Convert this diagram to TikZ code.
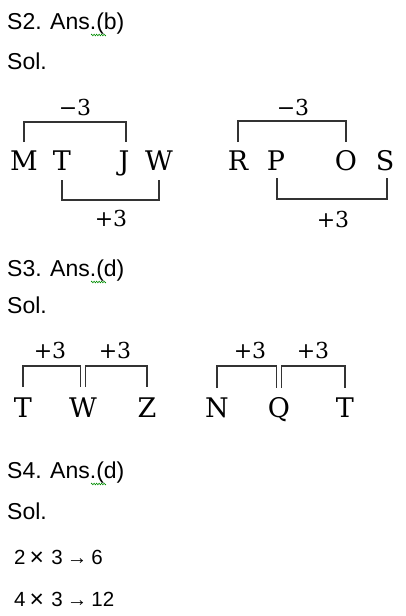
\documentclass[tikz,border=0pt]{standalone}
\usepackage{fontspec}
\setmainfont{DejaVu Serif}
\newfontfamily\arial{Liberation Sans}
\usetikzlibrary{decorations.pathmorphing}
\begin{document}
\begin{tikzpicture}[x=1pt,y=-1pt,
  head/.style={anchor=base west,inner sep=0pt,font=\arial\fontsize{23}{23}\selectfont},
  eqn/.style={anchor=base west,inner sep=0pt,font=\arial\fontsize{20.5}{20.5}\selectfont},
  letter/.style={anchor=base,inner sep=0pt,font=\fontsize{27}{27}\selectfont},
  num/.style={inner sep=0pt,font=\fontsize{22}{22}\selectfont},
  brk/.style={line width=1.8pt,draw=black!80},
  squig/.style={draw=green!55!black,line width=0.6pt,decorate,decoration={zigzag,amplitude=0.8pt,segment length=2.5pt}}]
\useasboundingbox (0,0) rectangle (406,616);
% S2
\node[head] (h2) at (7,29) {S2. Ans.(b)};
\node[head] (s2) at (7,69) {Sol.};
\draw[squig] (91,35) -- (106,35);
\node[letter] (M) at (24,170) {M};
\node[letter] (T1) at (62,170) {T};
\node[letter] (J) at (124,170) {J};
\node[letter] (W1) at (159,170) {W};
\node[num] (m1) at (75,107) {−3};
\node[num] (p1) at (111,218) {+3};
\draw[brk] (M.center |- 0,142) -- (M.center |- 0,122) -- ([xshift=2pt]J.center |- 0,122) -- ([xshift=2pt]J.center |- 0,142);
\draw[brk] (T1.center |- 0,180) -- (T1.center |- 0,200) -- (W1.center |- 0,200) -- (W1.center |- 0,180);
\node[letter] (R) at (238,170) {R};
\node[letter] (P) at (276,170) {P};
\node[letter] (O) at (346,170) {O};
\node[letter] (S) at (385,170) {S};
\node[num] (m2) at (293,107) {−3};
\node[num] (p2) at (333,219) {+3};
\draw[brk] (R.center |- 0,142) -- (R.center |- 0,121) -- (O.center |- 0,121) -- (O.center |- 0,142);
\draw[brk] ([xshift=1pt]P.center |- 0,178) -- ([xshift=1pt]P.center |- 0,199) -- ([xshift=2pt]S.center |- 0,199) -- ([xshift=2pt]S.center |- 0,178);
% S3
\node[head] (h3) at (7,276) {S3. Ans.(d)};
\node[head] (s3) at (7,313) {Sol.};
\draw[squig] (91,282) -- (106,282);
\node[letter] (T2) at (23,417) {T};
\node[letter] (W2) at (83,417) {W};
\node[letter] (Z) at (147,417) {Z};
\node[num] (a1) at (50,350) {+3};
\node[num] (a2) at (115,350) {+3};
\draw[brk] (T2.center |- 0,387) -- (T2.center |- 0,366) -- ([xshift=-2.5pt]W2.center |- 0,366) -- ([xshift=-2.5pt]W2.center |- 0,387);
\draw[brk] ([xshift=2.5pt]W2.center |- 0,387) -- ([xshift=2.5pt]W2.center |- 0,366) -- (Z.center |- 0,366) -- (Z.center |- 0,387);
\node[letter] (N) at (217,417) {N};
\node[letter] (Q) at (279,417) {Q};
\node[letter] (T3) at (345,417) {T};
\node[num] (b1) at (250,350) {+3};
\node[num] (b2) at (313,350) {+3};
\draw[brk] (N.center |- 0,388) -- (N.center |- 0,366) -- ([xshift=-2.5pt]Q.center |- 0,366) -- ([xshift=-2.5pt]Q.center |- 0,388);
\draw[brk] ([xshift=2.5pt]Q.center |- 0,388) -- ([xshift=2.5pt]Q.center |- 0,366) -- (T3.center |- 0,366) -- (T3.center |- 0,388);
% S4
\node[head] (h4) at (7,478) {S4. Ans.(d)};
\node[head] (s4) at (7,519) {Sol.};
\draw[squig] (91,484) -- (106,484);
\node[eqn] (e1) at (14,564) {2\hspace{4pt}\raisebox{-1.4pt}{\scalebox{1.2}{×}}\hspace{7.5pt}3\hspace{4pt}→\hspace{4pt}6};
\node[eqn] (e2) at (14,606) {4\hspace{4pt}\raisebox{-1.4pt}{\scalebox{1.2}{×}}\hspace{7.5pt}3\hspace{4pt}→\hspace{4pt}12};
\end{tikzpicture}
\end{document}
